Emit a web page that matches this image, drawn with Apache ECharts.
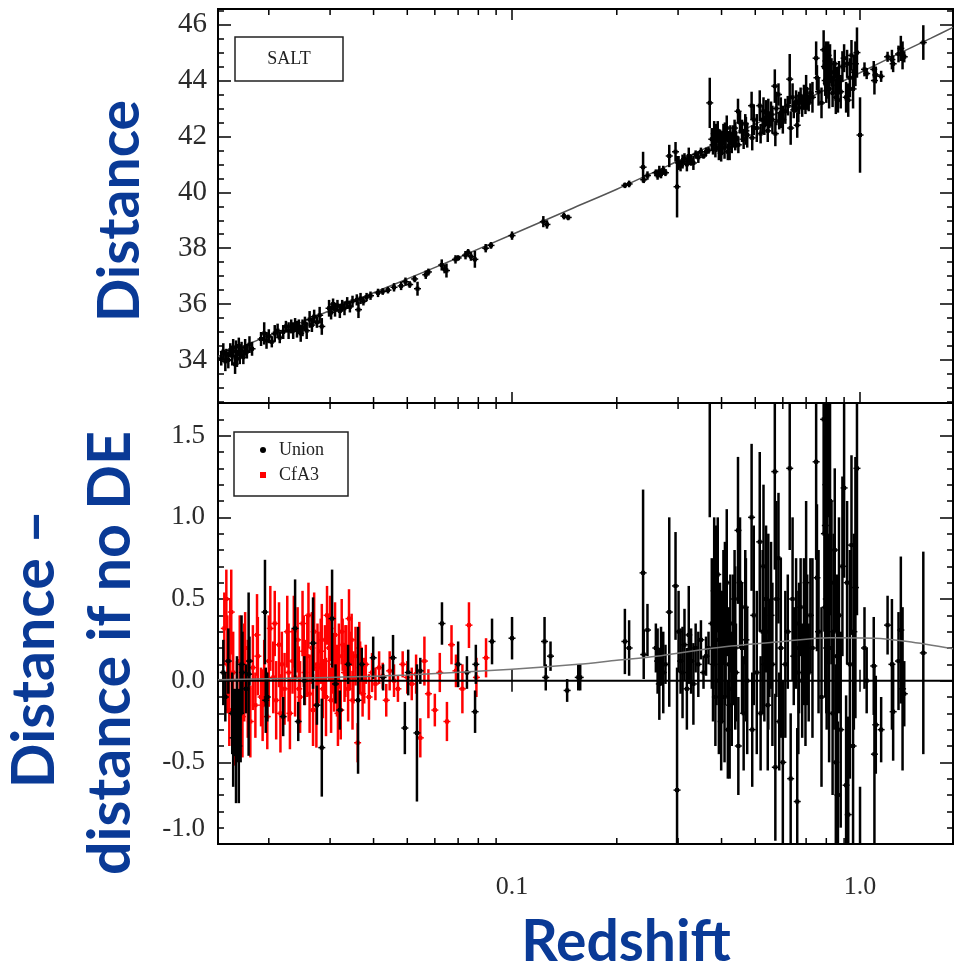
<!DOCTYPE html>
<html>
<head>
<meta charset="utf-8">
<script src="https://cdn.jsdelivr.net/npm/echarts@6/dist/echarts.min.js"></script>
<style>html,body{margin:0;padding:0;background:#fff}#c{width:960px;height:973px}</style>
</head>
<body>
<div id="c"></div>
<script>
// ---------- axis ranges & ticks ----------
const xRange = [0.01429, 1.85];
const yTopRange = [32.46, 46.56];
const yBotRange = [-1.0, 1.7];
const xMinorTicks = [0.02,0.03,0.04,0.05,0.06,0.07,0.08,0.09,0.2,0.3,0.4,0.5,0.6,0.7,0.8,0.9];

// ---------- top panel (SALT distance modulus) ----------
const topZ = [
 0.0146,0.0148,0.0150,0.0151,0.0153,0.0155,0.0157,0.0158,0.0160,0.0161,0.0162,0.0164,0.0165,0.0167,0.0169,0.0171,0.0173,0.0176,0.0179,
 0.0190,0.0194,0.0197,0.0200,0.0204,0.0208,0.0212,0.0215,0.0220,0.0224,0.0228,
 0.0232,0.0235,0.0238,0.0241,0.0244,0.0247,0.0250,0.0254,0.0257,
 0.0262,0.0266,0.0270,0.0275,0.0280,0.0284,
 0.0298,0.0302,0.0306,0.0310,0.0315,0.0320,0.0325,0.0330,0.0336,0.0342,0.0348,
 0.0358,0.0362,0.0367,0.0374,0.0382,0.0392,
 0.0412,0.0425,0.0440,0.0458,0.0480,0.0494,0.0508,0.0525,0.0535,0.0565,0.0575,
 0.0628,0.0640,0.0648,0.0688,0.0700,0.0735,0.0748,0.0762,0.0782,0.0840,0.0870,
 0.1000,0.1230,0.1260,0.1410,0.1450,
 0.211,0.217,0.238,0.239,0.245,0.259,0.262,0.265,0.268,0.272,0.276,
 0.283,0.295,0.298,0.301,0.305,0.309,0.313,0.318,0.322,0.327,0.332,0.337,0.343,0.349,0.355,0.361,0.367,
 0.370,
 0.375,0.378,0.381,0.384,0.387,0.390,0.393,0.396,0.399,0.402,0.405,0.408,0.411,0.414,0.417,0.420,0.424,0.428,0.432,0.436,0.440,
 0.446,0.447,0.458,0.463,0.468,0.474,0.488,0.490,0.515,0.518,0.525,0.531,0.537,0.543,0.549,0.555,
 0.569,0.571,0.583,0.586,0.600,0.610,0.620,0.628,0.632,0.645,0.655,0.660,0.668,0.675,0.682,0.690,0.697,0.705,0.712,0.720,
 0.748,0.752,0.786,0.790,0.794,0.798,0.802,0.806,0.810,0.828,0.834,0.840,0.846,0.852,0.858,0.864,
 0.900,0.912,0.918,0.925,0.945,0.970,0.980,1.000,
 1.030,1.045,1.095,1.100,1.110,1.150,1.200,1.235,1.245,1.290,1.310,1.325,1.340,1.520,
 0.385,0.398,0.409,0.422,0.438,0.452,0.470,0.495,0.505,0.528,0.545,0.560,0.575,0.592,0.640,
 0.665,0.700,0.730,0.760,0.775,0.795,0.800,0.815,0.820,0.870,0.880,0.890,0.935,0.955,0.960
];
const topMu = [
 34.05,34.3,33.95,34.2,34.0,34.35,34.15,34.45,33.85,34.3,34.05,34.5,34.2,34.35,34.1,34.45,34.3,34.55,34.4,
 34.75,34.95,34.7,34.85,34.65,34.95,35.05,34.8,35.0,35.2,35.05,
 35.2,35.05,35.25,35.1,35.2,34.95,35.15,35.3,35.05,
 35.45,35.25,35.55,35.35,35.6,35.2,
 35.85,35.7,36.0,35.8,35.95,35.75,35.95,35.85,36.05,35.9,36.1,
 36.15,35.8,36.2,36.1,36.25,36.3,
 36.4,36.45,36.5,36.6,36.65,36.8,36.7,36.9,36.55,37.05,37.15,
 37.4,37.25,37.2,37.6,37.65,37.75,37.85,37.7,37.6,38.0,38.1,
 38.45,38.95,38.85,39.15,39.1,
 40.25,40.3,40.9,40.45,40.6,40.7,40.6,40.75,40.65,40.8,40.7,
 41.3,41.45,40.2,41.05,40.95,41.1,41.2,41.0,41.3,41.15,41.05,41.35,41.25,41.45,41.3,41.45,41.5,
 43.2,
 41.9,41.7,42.1,41.55,41.85,42.2,41.6,41.95,41.4,41.8,42.1,41.6,41.9,42.3,41.45,41.85,42.1,41.75,42.0,42.3,41.9,
 42.9,41.7,42.2,41.9,42.45,42.05,43.1,41.95,43.1,42.1,42.6,42.4,42.85,42.2,42.6,42.8,
 43.8,42.1,43.5,42.55,42.6,42.9,43.1,44.05,42.3,42.95,43.25,42.4,43.2,43.45,43.05,43.4,43.1,43.35,43.2,43.55,
 44.8,44.1,45.1,44.5,44.0,44.7,43.85,44.35,44.9,44.3,43.55,44.1,44.6,43.4,44.0,43.3,
 44.8,43.4,44.6,43.3,44.9,44.6,45.0,42.05,
 44.4,44.25,44.4,44.0,44.2,44.15,44.85,44.75,44.6,44.95,45.15,44.9,44.85,45.36,
 41.95,41.7,42.0,41.6,42.0,42.5,42.2,42.6,42.3,42.9,42.75,42.6,43.0,42.85,43.4,
 43.0,43.7,43.4,43.6,43.2,44.45,43.9,43.7,44.6,44.1,43.6,44.5,44.1,43.7,44.3
];
const topErr = [
 0.25,0.3,0.35,0.2,0.3,0.25,0.35,0.3,0.35,0.4,0.3,0.3,0.35,0.3,0.25,0.3,0.25,0.3,0.25,
 0.25,0.4,0.3,0.25,0.2,0.3,0.25,0.2,0.25,0.2,0.3,
 0.25,0.3,0.25,0.3,0.25,0.3,0.3,0.25,0.3,
 0.3,0.25,0.25,0.2,0.3,0.3,
 0.3,0.25,0.2,0.25,0.2,0.25,0.2,0.25,0.2,0.2,0.2,
 0.2,0.3,0.2,0.15,0.15,0.15,
 0.15,0.12,0.12,0.15,0.15,0.15,0.12,0.12,0.25,0.15,0.12,
 0.2,0.15,0.25,0.15,0.1,0.15,0.12,0.15,0.3,0.15,0.12,
 0.15,0.2,0.15,0.12,0.1,
 0.1,0.12,0.55,0.12,0.15,0.12,0.15,0.2,0.15,0.15,0.12,
 0.4,0.35,1.1,0.25,0.2,0.25,0.2,0.25,0.3,0.2,0.25,0.15,0.2,0.15,0.1,0.15,0.12,
 0.9,
 0.4,0.35,0.45,0.3,0.4,0.35,0.45,0.3,0.3,0.4,0.35,0.4,0.3,0.45,0.3,0.35,0.3,0.35,0.4,0.3,0.3,
 0.45,0.3,0.4,0.35,0.35,0.45,0.5,0.45,0.55,0.35,0.5,0.35,0.45,0.4,0.3,0.45,
 0.6,0.45,0.4,0.3,0.5,0.45,0.35,0.9,0.6,0.3,0.4,0.45,0.4,0.3,0.35,0.45,0.3,0.4,0.3,0.35,
 0.6,0.45,0.7,0.6,0.55,0.7,0.5,0.6,0.5,0.5,0.5,0.6,0.5,0.6,0.5,0.45,
 0.5,0.55,0.5,0.6,0.55,0.8,0.9,1.35,
 0.25,0.2,0.3,0.5,0.3,0.2,0.18,0.35,0.3,0.3,0.45,0.5,0.2,0.62,
 0.5,0.45,0.5,0.45,0.5,0.4,0.5,0.55,0.5,0.5,0.6,0.5,0.6,0.55,0.5,
 0.5,0.5,0.55,0.5,0.55,0.8,0.7,0.7,0.7,0.6,0.6,0.55,0.7,0.7,0.6
];
const modelZ  = [0.01429,0.02,0.03,0.05,0.07,0.1,0.15,0.2,0.3,0.4,0.5,0.7,1.0,1.3,1.6,1.85];
const modelMu = [34.13,34.87,35.77,36.9,37.66,38.49,39.44,40.11,41.12,41.85,42.44,43.33,44.28,44.98,45.52,45.9];

// ---------- bottom panel (residual vs empty universe) ----------
const unionZ = [
 0.0148,0.0150,0.0153,0.0157,0.0158,0.0160,0.0161,0.0162,0.0163,0.0164,0.0166,0.0167,0.0168,0.0172,0.0175,0.0176,
 0.0195,0.0196,0.0198,0.0220,0.0238,0.0243,0.0253,0.0268,0.0275,0.0284,0.0304,0.0311,0.0320,0.0338,0.0361,0.0370,
 0.0399,0.0426,0.0455,0.0492,0.0503,0.0533,0.0545,0.0629,0.0700,0.0742,0.0783,0.0787,0.0876,0.1000,0.1240,0.1250,
 0.1290,0.1440,0.1550,0.1570,
 0.211,0.217,0.238,0.239,0.245,0.259,0.262,0.265,0.268,0.272,0.276,
 0.283,0.295,0.298,0.301,0.305,0.309,0.313,0.318,0.322,0.327,0.332,0.337,0.343,0.349,0.355,0.361,0.367,
 0.370,
 0.375,0.378,0.381,0.384,0.387,0.390,0.393,0.396,0.399,0.402,0.405,0.408,0.411,0.414,0.417,0.420,0.424,0.428,0.432,0.436,0.440,
 0.446,0.447,0.458,0.463,0.468,0.474,0.488,0.490,0.515,0.518,0.525,0.531,0.537,0.543,0.549,0.555,
 0.569,0.571,0.583,0.586,0.600,0.610,0.620,0.628,0.632,0.645,0.655,0.660,0.668,0.675,0.682,0.690,0.697,0.705,0.712,0.720,
 0.748,0.752,0.786,0.790,0.794,0.798,0.802,0.806,0.810,0.828,0.834,0.840,0.846,0.852,0.858,0.864,
 0.900,0.912,0.918,0.925,0.945,0.970,0.980,1.000,
 1.030,1.045,1.095,1.100,1.110,1.150,1.200,1.235,1.245,1.290,1.310,1.325,1.340,1.520,
 0.385,0.398,0.409,0.422,0.438,0.452,0.470,0.495,0.505,0.528,0.545,0.560,0.575,0.592,0.640,
 0.665,0.700,0.730,0.760,0.775,0.795,0.800,0.815,0.820,0.870,0.880,0.890,0.935,0.955,0.960
];
const unionRes = [
 0.05,-0.1,0.12,-0.2,-0.35,-0.25,-0.45,-0.1,-0.3,-0.40,-0.2,0.1,0.05,-0.05,0.04,0.12,
 0.42,-0.12,-0.1,-0.22,0.32,-0.25,0.0,0.23,-0.15,-0.41,0.38,-0.02,-0.18,0.1,-0.12,0.1,
 0.14,0.02,0.14,-0.29,0.05,-0.32,0.06,0.35,0.10,0.05,-0.19,0.10,0.24,0.26,0.24,0.02,
 0.15,-0.06,0.02,0.02,
 0.24,0.2,0.66,0.16,0.31,0.20,0.12,-0.02,0.15,0.05,0.1,
 0.42,0.58,-0.67,0.30,0.12,0.05,0.22,-0.05,0.28,0.12,-0.02,0.2,0.1,0.25,0.05,0.15,0.2,
 1.95,
 0.35,0.1,0.55,-0.1,0.25,0.65,0.0,0.3,-0.25,0.15,0.45,-0.1,0.2,0.6,-0.3,0.1,0.35,-0.05,0.25,0.5,0.05,
 0.92,-0.4,0.2,-0.2,0.45,0.0,1.0,-0.3,0.85,-0.2,0.3,0.1,0.5,-0.15,0.2,0.4,
 1.28,-0.53,0.75,-0.25,-0.5,0.1,0.3,1.3,-0.6,0.15,0.35,-0.74,0.2,0.45,0.0,0.3,-0.1,0.25,0.05,0.4,
 1.34,0.63,1.6,0.9,0.45,1.2,0.2,0.7,1.8,0.6,-0.2,0.3,0.8,-0.5,0.15,-0.7,
 1.18,-0.64,0.6,-0.82,0.83,0.57,1.3,-2.0,
 0.2,0.0,0.09,-0.45,-0.27,-0.3,0.34,0.1,-0.19,0.12,0.31,-0.05,-0.08,0.17,
 0.45,0.1,0.35,-0.15,0.2,0.6,0.25,0.4,0.05,0.7,0.3,0.1,0.5,0.2,0.5,
 0.05,0.6,0.2,0.3,-0.1,0.95,0.5,0.2,1.1,0.4,-0.3,0.7,0.1,-0.4,0.3
];
const unionErr = [
 0.2,0.15,0.2,0.25,0.3,0.2,0.3,0.25,0.2,0.35,0.3,0.3,0.25,0.15,0.5,0.15,
 0.32,0.2,0.15,0.12,0.3,0.12,0.15,0.28,0.12,0.3,0.3,0.12,0.12,0.12,0.45,0.1,
 0.13,0.08,0.14,0.16,0.14,0.42,0.08,0.13,0.14,0.1,0.13,0.12,0.14,0.13,0.15,0.08,
 0.09,0.07,0.08,0.08,
 0.2,0.17,0.51,0.15,0.16,0.15,0.2,0.22,0.18,0.25,0.12,
 0.58,0.33,0.75,0.25,0.2,0.28,0.22,0.25,0.3,0.2,0.25,0.15,0.2,0.12,0.1,0.12,0.1,
 0.95,
 0.4,0.35,0.45,0.3,0.4,0.35,0.45,0.3,0.3,0.4,0.35,0.4,0.3,0.45,0.3,0.35,0.3,0.35,0.4,0.3,0.3,
 0.45,0.3,0.4,0.35,0.35,0.45,0.45,0.35,0.55,0.35,0.5,0.35,0.45,0.4,0.3,0.45,
 0.6,0.45,0.4,0.3,0.5,0.45,0.35,0.5,0.4,0.3,0.4,0.45,0.4,0.3,0.35,0.45,0.3,0.4,0.3,0.35,
 0.6,0.45,0.7,0.6,0.55,0.7,0.5,0.6,0.8,0.5,0.5,0.6,0.5,0.6,0.5,0.45,
 0.55,0.55,0.5,0.6,0.55,0.8,0.9,1.35,
 0.25,0.2,0.3,0.55,0.3,0.2,0.18,0.4,0.3,0.3,0.45,0.5,0.2,0.62,
 0.5,0.45,0.5,0.45,0.5,0.4,0.5,0.55,0.5,0.5,0.6,0.5,0.6,0.55,0.5,
 0.5,0.5,0.55,0.5,0.55,0.8,0.7,0.7,0.7,0.6,0.6,0.55,0.7,0.7,0.6
];
const cfaZ = [
 0.0149,0.0151,0.0152,0.0154,0.0156,0.0158,0.0162,0.0165,0.0168,0.0171,0.0174,0.0177,0.0180,0.0183,0.0186,0.0190,
 0.0194,0.0198,0.0202,0.0206,0.0210,0.0214,0.0218,0.0222,0.0226,0.0230,0.0234,0.0238,0.0242,0.0246,0.0250,0.0254,
 0.0258,0.0262,0.0266,0.0270,0.0274,0.0278,0.0282,0.0286,0.0290,0.0294,0.0298,0.0302,0.0306,0.0310,0.0314,0.0318,
 0.0322,0.0326,0.0330,0.0334,0.0338,0.0342,0.0346,0.0350,0.0355,0.0360,0.0366,0.0372,0.0380,0.0388,0.0396,0.0405,
 0.0415,0.0425,0.0435,0.0445,0.0458,0.0470,0.0485,0.0500,0.0515,0.0530,0.0545,0.0560,0.0575,0.0600,0.0620,0.0650,
 0.0670,0.0690,0.0720,0.0752,0.0790,0.0842,
 0.0155,0.0160,0.0170,0.0185,0.0192,0.0200,0.0208,0.0216,0.0228,0.0236,0.0244,0.0252,0.0260,0.0268,0.0276,0.0284,
 0.0292,0.0300,0.0308,0.0316,0.0324,0.0332,0.0340,0.0348,0.0364,0.0376
];
const cfaRes = [
 0.32,0.50,0.10,-0.18,0.42,0.05,-0.08,0.12,-0.22,0.20,-0.05,-0.25,0.08,-0.15,0.15,-0.10,
 0.05,-0.22,0.32,0.02,-0.12,0.22,0.10,-0.05,0.30,-0.20,0.12,0.02,0.25,-0.10,0.35,0.05,
 0.15,-0.08,0.20,0.30,-0.15,0.08,0.18,-0.05,0.12,0.40,0.20,-0.12,0.10,0.28,0.00,0.15,
 -0.18,0.22,0.05,0.18,-0.05,0.12,0.25,0.02,0.15,-0.38,0.08,-0.08,0.10,-0.10,0.05,-0.02,
 0.08,0.03,-0.12,0.06,0.00,-0.05,0.10,0.02,-0.02,0.04,-0.35,0.12,-0.08,-0.18,0.05,-0.25,
 0.22,0.06,-0.05,0.34,0.02,0.14,
 0.25,-0.30,0.05,0.28,-0.15,0.12,0.35,-0.20,0.05,0.30,-0.05,0.18,0.40,-0.18,0.10,0.25,
 -0.10,0.32,0.05,-0.20,0.30,0.12,0.38,-0.12,0.20,0.00
];
const cfaErr = [
 0.22,0.18,0.30,0.22,0.26,0.25,0.20,0.28,0.25,0.22,0.30,0.22,0.26,0.20,0.24,0.18,
 0.20,0.20,0.26,0.22,0.24,0.26,0.20,0.22,0.22,0.22,0.20,0.24,0.20,0.22,0.20,0.20,
 0.25,0.24,0.22,0.24,0.26,0.22,0.20,0.18,0.22,0.18,0.20,0.20,0.18,0.20,0.22,0.20,
 0.18,0.16,0.18,0.16,0.20,0.18,0.16,0.16,0.18,0.12,0.16,0.14,0.12,0.14,0.12,0.10,
 0.10,0.08,0.10,0.12,0.10,0.08,0.08,0.10,0.10,0.12,0.12,0.15,0.15,0.10,0.12,0.12,
 0.12,0.10,0.15,0.14,0.12,0.12,
 0.25,0.22,0.30,0.25,0.22,0.28,0.20,0.24,0.30,0.22,0.26,0.22,0.20,0.22,0.25,0.22,
 0.24,0.20,0.24,0.20,0.20,0.22,0.18,0.18,0.16,0.14
];
const diffZ   = [0.01429,0.03,0.05,0.1,0.155,0.2,0.26,0.38,0.6,0.82,1.1,1.37,1.85];
const diffRes = [0.005,0.02,0.035,0.07,0.1,0.125,0.15,0.2,0.24,0.262,0.26,0.24,0.196];
const zeroZ   = [0.01429,1.85];
const zeroRes = [0,0];

// ---------- build ----------
const zip2 = (a,b) => a.map((v,i)=>[v,b[i]]);
const zip3 = (a,b,c) => a.map((v,i)=>[v,b[i],c[i]]);

function errorBar(color){
  return function(params, api){
    const x = api.value(0), y = api.value(1), e = api.value(2);
    const c = api.coord([x,y]), t = api.coord([x,y+e]), b = api.coord([x,y-e]);
    return {type:'group', children:[
      {type:'line', shape:{x1:c[0],y1:t[1],x2:c[0],y2:b[1]}, style:{stroke:color,lineWidth:2.5}},
      {type:'line', shape:{x1:c[0]-3.5,y1:c[1],x2:c[0]+3.5,y2:c[1]}, style:{stroke:color,lineWidth:1.5}},
      {type:'rect', shape:{x:c[0]-2,y:c[1]-2,width:4,height:4}, style:{fill:color}}
    ]};
  };
}
function minorTicks(yLo, yHi){
  return function(params, api){
    const v = api.value(0);
    const b = api.coord([v,yLo]), t = api.coord([v,yHi]);
    return {type:'group', children:[
      {type:'line', shape:{x1:b[0],y1:b[1],x2:b[0],y2:b[1]-6}, style:{stroke:'#000',lineWidth:1.5}},
      {type:'line', shape:{x1:t[0],y1:t[1],x2:t[0],y2:t[1]+6}, style:{stroke:'#000',lineWidth:1.5}}
    ]};
  };
}

const LBL = '#2b2b2b';
const SERIF = '"Liberation Serif", "DejaVu Serif", serif';
const BLUE = '#0A3A96';

function xAx(grid, pos, showLabel){
  return {
    type:'log', gridIndex:grid, position:pos, min:xRange[0], max:xRange[1],
    axisLine:{show:false}, splitLine:{show:false},
    axisTick:{show:true, inside:true, length:11, lineStyle:{color:'#000', width:1.5}},
    axisLabel:{show:showLabel, margin:30, fontFamily:SERIF, fontSize:26, color:LBL,
      showMinLabel:false, showMaxLabel:false,
      formatter: v => Math.abs(v-0.1)<1e-6 ? '0.1' : (Math.abs(v-1)<1e-6 ? '1.0' : '')}
  };
}
function yAx(grid, pos, range, opts){
  return Object.assign({
    type:'value', gridIndex:grid, position:pos, min:range[0], max:range[1],
    axisLine:{show:false}, splitLine:{show:false},
  }, opts);
}
const majorTick = {show:true, inside:true, length:13, lineStyle:{color:'#000', width:1.5}};
const minorTick = {show:true, inside:true, length:6, lineStyle:{color:'#000', width:1.5}};
const titleFont = s => 'bold ' + s + 'px Lato';
const centered = {align:'center', verticalAlign:'middle', textAlign:'center', textVerticalAlign:'middle'};

const option = {
  animation:false,
  backgroundColor:'#fff',
  grid:[
    {left:218, top:9, width:735, height:394, show:true, borderColor:'#000', borderWidth:2, backgroundColor:'transparent'},
    {left:218, top:403, width:735, height:441, show:true, borderColor:'#000', borderWidth:2, backgroundColor:'transparent'}
  ],
  xAxis:[ xAx(0,'bottom',false), xAx(0,'top',false), xAx(1,'bottom',true), xAx(1,'top',false) ],
  yAxis:[
    yAx(0,'left',yTopRange,{splitNumber:7, axisTick:majorTick,
      axisLabel:{show:true, margin:11, fontFamily:SERIF, fontSize:29, color:LBL, showMinLabel:false, showMaxLabel:false}}),
    yAx(0,'left',yTopRange,{splitNumber:28, axisTick:minorTick, axisLabel:{show:false}}),
    yAx(0,'right',yTopRange,{splitNumber:7, axisTick:majorTick, axisLabel:{show:false}}),
    yAx(0,'right',yTopRange,{splitNumber:28, axisTick:minorTick, axisLabel:{show:false}}),
    yAx(1,'left',yBotRange,{interval:0.5, axisTick:majorTick,
      axisLabel:{show:true, margin:13, fontFamily:SERIF, fontSize:27, color:LBL, showMaxLabel:false,
        formatter: v => Math.abs(v+1)<1e-6 ? '{lo|-1.0}' : (Math.abs(v-1.7)<1e-6 ? '' : v.toFixed(1)),
        rich:{lo:{fontFamily:SERIF, fontSize:27, color:LBL, padding:[0,0,30,0]}}}}),
    yAx(1,'left',yBotRange,{interval:0.1, axisTick:minorTick, axisLabel:{show:false}}),
    yAx(1,'right',yBotRange,{interval:0.5, axisTick:majorTick, axisLabel:{show:false}}),
    yAx(1,'right',yBotRange,{interval:0.1, axisTick:minorTick, axisLabel:{show:false}})
  ],
  legend:{
    orient:'vertical', left:234, top:432, itemWidth:6, itemHeight:6, itemGap:7,
    padding:[9,24,12,26], borderColor:'#222', borderWidth:1.5, backgroundColor:'#fff',
    textStyle:{fontFamily:SERIF, fontSize:18, color:'#222', padding:[0,0,0,8]},
    data:[{name:'Union', icon:'circle', itemStyle:{color:'#000'}}, {name:'CfA3', icon:'rect', itemStyle:{color:'#f00'}}],
    selectedMode:false
  },
  series:[
    {name:'Model', type:'line', xAxisIndex:0, yAxisIndex:0, data:zip2(modelZ, modelMu), showSymbol:false, smooth:0.3,
     lineStyle:{color:'#555', width:1.5}, z:1, silent:true},
    {name:'SALT', type:'custom', xAxisIndex:0, yAxisIndex:0, data:zip3(topZ, topMu, topErr), renderItem:errorBar('#000'),
     clip:true, encode:{x:0, y:1}, itemStyle:{color:'#000'}, z:2},
    {name:'CfA3', type:'custom', xAxisIndex:2, yAxisIndex:4, data:zip3(cfaZ, cfaRes, cfaErr), renderItem:errorBar('#ff0000'),
     clip:true, encode:{x:0, y:1}, itemStyle:{color:'#f00'}, z:2},
    {name:'Union', type:'custom', xAxisIndex:2, yAxisIndex:4, data:zip3(unionZ, unionRes, unionErr), renderItem:errorBar('#000'),
     clip:true, encode:{x:0, y:1}, itemStyle:{color:'#000'}, z:3},
    {name:'Zero', type:'line', xAxisIndex:2, yAxisIndex:4, data:zip2(zeroZ, zeroRes), showSymbol:false,
     lineStyle:{color:'#000', width:2}, z:4, silent:true},
    {name:'LCDM-empty', type:'line', xAxisIndex:2, yAxisIndex:4, data:zip2(diffZ, diffRes), showSymbol:false, smooth:0.3,
     lineStyle:{color:'#777', width:1.5}, z:4, silent:true},
    {name:'xminorTop', type:'custom', xAxisIndex:0, yAxisIndex:0, data:xMinorTicks.map(v=>[v, yTopRange[0]]),
     renderItem:minorTicks(yTopRange[0], yTopRange[1]), clip:false, silent:true, z:5},
    {name:'xminorBot', type:'custom', xAxisIndex:2, yAxisIndex:4, data:xMinorTicks.map(v=>[v, yBotRange[0]]),
     renderItem:minorTicks(yBotRange[0], yBotRange[1]), clip:false, silent:true, z:5}
  ],
  graphic:[
    {type:'rect', shape:{x:235, y:37, width:108, height:44}, style:{fill:'#fff', stroke:'#222', lineWidth:1.5}, z:10},
    {type:'text', x:289, y:59, style:Object.assign({text:'SALT', font:'18px "Liberation Serif"', fill:'#222'}, centered), z:11},
    {type:'text', x:121, y:211, rotation:Math.PI/2, style:Object.assign({text:'Distance', font:titleFont(57), fill:BLUE}, centered)},
    {type:'text', x:35, y:649, rotation:Math.PI/2, style:Object.assign({text:'Distance \u2013', font:titleFont(59), fill:BLUE}, centered)},
    {type:'text', x:111, y:653, rotation:Math.PI/2, style:Object.assign({text:'distance if no DE', font:titleFont(59), fill:BLUE}, centered)},
    {type:'text', x:626, y:943, style:Object.assign({text:'Redshift', font:titleFont(57), fill:BLUE}, centered)}
  ]
};
const chart = echarts.init(document.getElementById('c'), null, {renderer:'canvas'});
chart.setOption(option);
</script>
</body>
</html>
